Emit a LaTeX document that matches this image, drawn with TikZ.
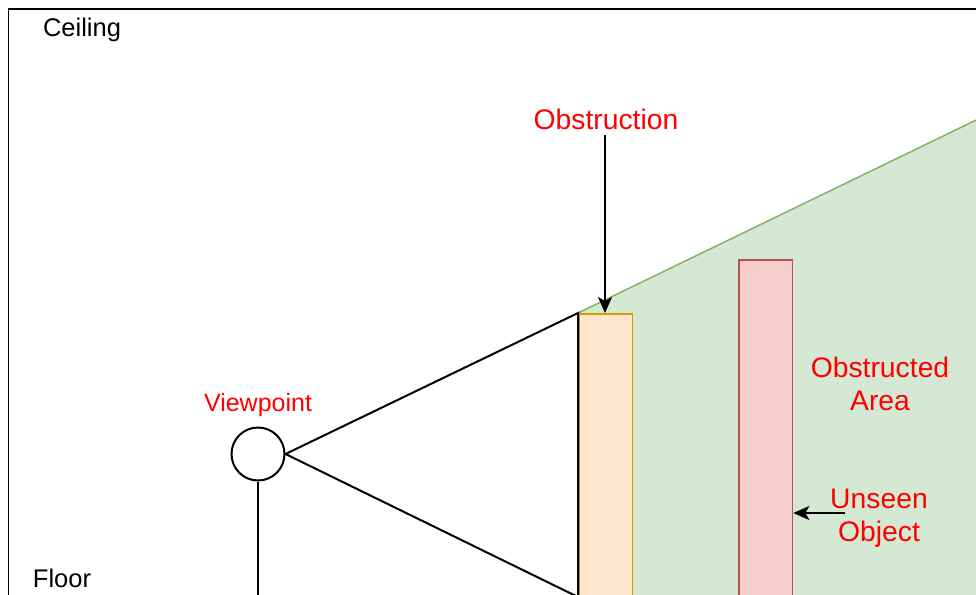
\documentclass[tikz,border=0pt]{standalone}
\usepackage{fontspec}
\setmainfont{Liberation Sans}
\usetikzlibrary{arrows.meta}
\definecolor{gfill}{HTML}{D5E8D4}
\definecolor{gline}{HTML}{82B366}
\definecolor{ofill}{HTML}{FFE6CC}
\definecolor{oline}{HTML}{D79B00}
\definecolor{ufill}{HTML}{F8CECC}
\definecolor{uline}{HTML}{B85450}
\definecolor{lbl}{HTML}{FF0000}
\begin{document}
\begin{tikzpicture}[x=1pt,y=-1pt,
  big/.style={text=lbl, font=\fontsize{28.3}{33.3}\selectfont, inner sep=0pt, align=center},
  small/.style={font=\fontsize{25.5}{30}\selectfont, inner sep=0pt},
  ln/.style={line width=2pt, draw=black},
  arr/.style={ln, -{Stealth[length=16pt,width=14pt,inset=4pt]}},
  block/.style={line width=1.5pt, anchor=north west, inner sep=0pt, minimum width=53.5pt, minimum height=400pt}]
\useasboundingbox (0,0) rectangle (976,594);
\clip (0,0) rectangle (976,594);
% outer frame
\draw[line width=1.8pt] (8.5,9.3) rectangle (1000,640);
% obstructed area
\coordinate (t1) at (578,313);
\coordinate (t2) at (578,597);
\coordinate (gfar) at (1164,29);
\fill[gfill] (t1) -- (gfar) -- (1164,700) -- (578,700) -- cycle;
\draw[gline, line width=1.5pt] (t1) -- (gfar);
% obstruction and unseen object
\node[block, draw=oline, fill=ofill] (obs) at (578,313) {};
\node[block, draw=uline, fill=ufill] (obj) at (738.3,259.3) {};
% viewpoint
\node[circle, ln, minimum size=53pt, inner sep=0pt] (vp) at (258,454) {};
\coordinate (vbot) at (258,640);
\draw[ln] (vp.south) -- (vbot);
\draw[ln, line join=miter] (vp.east) -- (t1) -- (t2) -- cycle;
% labels
\node[small, anchor=base] (ceil) at (82,37) {Ceiling};
\node[small, anchor=base] (floor) at (62,587) {Floor};
\node[small, text=lbl, font=\fontsize{25}{30}\selectfont, anchor=base] (vplbl) at (258,411) {Viewpoint};
\node[big, anchor=base] (obslbl) at (606,129) {Obstruction};
\node[big] (arealbl) at (880,384) {Obstructed\\Area};
\node[big] (objlbl) at (879,518) {Unseen\\Object};
% arrows
\coordinate (oa) at (605,135);
\draw[arr] (oa) -- (oa |- obs.north);
\coordinate (ua) at (845,513);
\draw[arr] (ua) -- (ua -| obj.east);
\end{tikzpicture}
\end{document}
